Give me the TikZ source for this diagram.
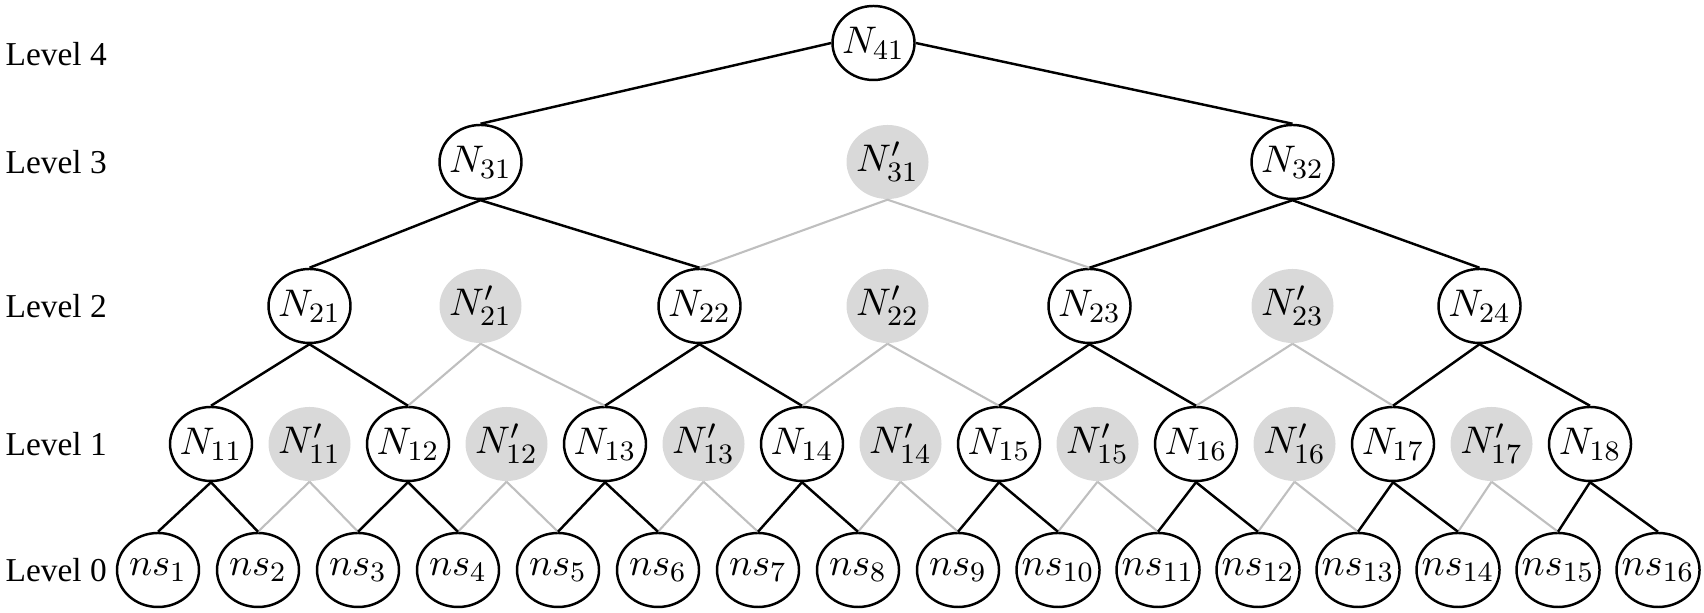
\documentclass[tikz,border=0pt]{standalone}
\usepackage[no-math]{fontspec}
\setmainfont{Liberation Serif}
\usepackage{tikz}
\usetikzlibrary{calc, shapes.geometric, positioning}
\definecolor{ghostfill}{RGB}{217, 217, 217}
\definecolor{ghostline}{RGB}{191, 191, 191}

\begin{document}
\begin{tikzpicture}[
    on grid,
    node distance=1cm,
    font=\fontsize{11}{13}\selectfont,
    real/.style={ellipse, draw=black, line width=0.7pt, fill=white, minimum width=0.82cm, minimum height=0.74cm, inner xsep=-2pt, inner ysep=0pt},
    ghost/.style={ellipse, fill=ghostfill, minimum width=0.82cm, minimum height=0.74cm, inner xsep=-2pt, inner ysep=0pt},
    line/.style={draw=black, line width=0.7pt},
    faint/.style={draw=ghostline, line width=0.6pt},
    lvl/.style={anchor=west, inner sep=0pt, font=\fontsize{9.5}{11}\selectfont}
]
    \useasboundingbox (0,0) rectangle (17.04,6.13);

    % level 0
    \node [real] (ns1) at (1.58,0.43) {$ns_1$};
    \node [real, right=of ns1] (ns2) {$ns_2$};
    \node [real, right=of ns2] (ns3) {$ns_3$};
    \node [real, right=of ns3] (ns4) {$ns_4$};
    \node [real, right=of ns4] (ns5) {$ns_5$};
    \node [real, right=of ns5] (ns6) {$ns_6$};
    \node [real, right=of ns6] (ns7) {$ns_7$};
    \node [real, right=of ns7] (ns8) {$ns_8$};
    \node [real, right=of ns8] (ns9) {$ns_9$};
    \node [real, right=of ns9] (ns10) {$ns_{10}$};
    \node [real, right=of ns10] (ns11) {$ns_{11}$};
    \node [real, right=of ns11] (ns12) {$ns_{12}$};
    \node [real, right=of ns12] (ns13) {$ns_{13}$};
    \node [real, right=of ns13] (ns14) {$ns_{14}$};
    \node [real, right=of ns14] (ns15) {$ns_{15}$};
    \node [real, right=of ns15] (ns16) {$ns_{16}$};

    % level 1
    \node [real, above right=1.26cm and 0.53cm of ns1] (n11) {$N_{11}$};
    \node [ghost, right=0.985cm of n11] (n11p) {$N'_{11}$};
    \node [real, right=0.985cm of n11p] (n12) {$N_{12}$};
    \node [ghost, right=0.985cm of n12] (n12p) {$N'_{12}$};
    \node [real, right=0.985cm of n12p] (n13) {$N_{13}$};
    \node [ghost, right=0.985cm of n13] (n13p) {$N'_{13}$};
    \node [real, right=0.985cm of n13p] (n14) {$N_{14}$};
    \node [ghost, right=0.985cm of n14] (n14p) {$N'_{14}$};
    \node [real, right=0.985cm of n14p] (n15) {$N_{15}$};
    \node [ghost, right=0.985cm of n15] (n15p) {$N'_{15}$};
    \node [real, right=0.985cm of n15p] (n16) {$N_{16}$};
    \node [ghost, right=0.985cm of n16] (n16p) {$N'_{16}$};
    \node [real, right=0.985cm of n16p] (n17) {$N_{17}$};
    \node [ghost, right=0.985cm of n17] (n17p) {$N'_{17}$};
    \node [real, right=0.985cm of n17p] (n18) {$N_{18}$};

    % level 2
    \node [real, above=1.38cm of n11p] (n21) {$N_{21}$};
    \node [real, right=3.9cm of n21] (n22) {$N_{22}$};
    \node [real, right=3.9cm of n22] (n23) {$N_{23}$};
    \node [real, right=3.9cm of n23] (n24) {$N_{24}$};
    \node [ghost, xshift=-0.07cm] (n22p) at ($(n22)!0.5!(n23)$) {$N'_{22}$};

    % level 3 and 4
    \node [ghost, above=1.44cm of n22p] (n31p) {$N'_{31}$};
    \node [real, left=4.07cm of n31p] (n31) {$N_{31}$};
    \node [real, right=4.05cm of n31p] (n32) {$N_{32}$};
    \node [ghost] (n21p) at (n31 |- n21) {$N'_{21}$};
    \node [ghost] (n23p) at (n32 |- n21) {$N'_{23}$};
    \node [real, above=1.19cm of n31p, xshift=-0.14cm] (n41) {$N_{41}$};

    % level labels
    \coordinate (lft) at (0.05,0);
    \node [lvl, yshift=-0.11cm] (lv4) at (n41 -| lft) {Level 4};
    \node [lvl] (lv3) at (n31 -| lft) {Level 3};
    \node [lvl] (lv2) at (n21 -| lft) {Level 2};
    \node [lvl] (lv1) at (n11 -| lft) {Level 1};
    \node [lvl] (lv0) at (ns1 -| lft) {Level 0};

    % grey links
    \path [faint] (n31p.south) -- (n22.north) (n31p.south) -- (n23.north);
    \path [faint] (n21p.south) -- (n12.north) (n21p.south) -- (n13.north);
    \path [faint] (n22p.south) -- (n14.north) (n22p.south) -- (n15.north);
    \path [faint] (n23p.south) -- (n16.north) (n23p.south) -- (n17.north);
    \path [faint] (n11p.south) -- (ns2.north) (n11p.south) -- (ns3.north);
    \path [faint] (n12p.south) -- (ns4.north) (n12p.south) -- (ns5.north);
    \path [faint] (n13p.south) -- (ns6.north) (n13p.south) -- (ns7.north);
    \path [faint] (n14p.south) -- (ns8.north) (n14p.south) -- (ns9.north);
    \path [faint] (n15p.south) -- (ns10.north) (n15p.south) -- (ns11.north);
    \path [faint] (n16p.south) -- (ns12.north) (n16p.south) -- (ns13.north);
    \path [faint] (n17p.south) -- (ns14.north) (n17p.south) -- (ns15.north);

    % black links
    \path [line] (n41.west) -- (n31.north) (n41.east) -- (n32.north);
    \path [line] (n31.south) -- (n21.north) (n31.south) -- (n22.north);
    \path [line] (n32.south) -- (n23.north) (n32.south) -- (n24.north);
    \path [line] (n21.south) -- (n11.north) (n21.south) -- (n12.north);
    \path [line] (n22.south) -- (n13.north) (n22.south) -- (n14.north);
    \path [line] (n23.south) -- (n15.north) (n23.south) -- (n16.north);
    \path [line] (n24.south) -- (n17.north) (n24.south) -- (n18.north);
    \path [line] (n11.south) -- (ns1.north) (n11.south) -- (ns2.north);
    \path [line] (n12.south) -- (ns3.north) (n12.south) -- (ns4.north);
    \path [line] (n13.south) -- (ns5.north) (n13.south) -- (ns6.north);
    \path [line] (n14.south) -- (ns7.north) (n14.south) -- (ns8.north);
    \path [line] (n15.south) -- (ns9.north) (n15.south) -- (ns10.north);
    \path [line] (n16.south) -- (ns11.north) (n16.south) -- (ns12.north);
    \path [line] (n17.south) -- (ns13.north) (n17.south) -- (ns14.north);
    \path [line] (n18.south) -- (ns15.north) (n18.south) -- (ns16.north);

\end{tikzpicture}
\end{document}
